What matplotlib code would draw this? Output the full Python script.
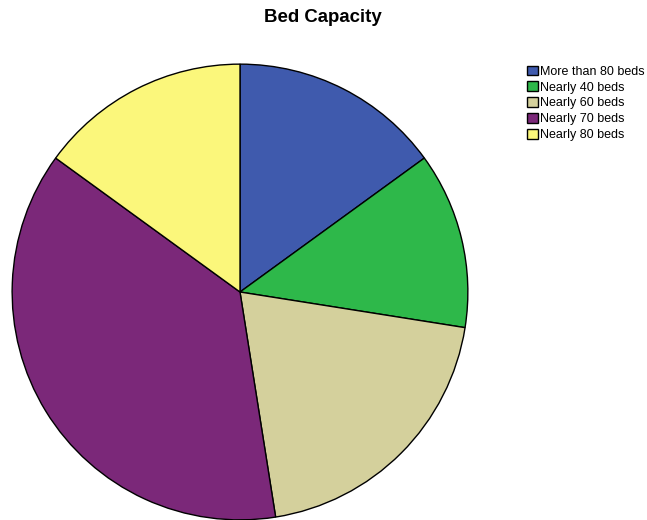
import matplotlib
matplotlib.use('Agg')
from matplotlib import pyplot as plt

labels = ['More than 80 beds', 'Nearly 40 beds', 'Nearly 60 beds',
          'Nearly 70 beds', 'Nearly 80 beds']
counts = [6, 5, 8, 15, 6]
colors = ['#3f5aad', '#2eb84a', '#d4d09c', '#7b2879', '#fbf77b']

plt.rcParams['font.family'] = ['Liberation Sans', 'DejaVu Sans']

fig = plt.figure(figsize=(6.47, 5.2), dpi=100)
ax = fig.add_axes([11 / 647, -1 / 520, 458 / 647, 458 / 520])
wedges, _ = ax.pie(counts, colors=colors, startangle=90, counterclock=False,
                   radius=1.0,
                   wedgeprops={'edgecolor': 'black', 'linewidth': 1.0})
ax.set_xlim(-1.005, 1.005)
ax.set_ylim(-1.005, 1.005)
ax.set_aspect('equal')
ax.axis('off')

fig.text(323 / 647, 1 - 18 / 520, 'Bed Capacity', ha='center', va='center',
         fontsize=13.4, fontweight='bold')

leg = fig.legend(wedges, labels, loc='upper left',
                 bbox_to_anchor=(527 / 647, 1 - 65.5 / 520),
                 frameon=False, fontsize=9, handlelength=0.85,
                 handleheight=0.85, handletextpad=0.2, labelspacing=0.28,
                 borderpad=0, borderaxespad=0)
for h in leg.legend_handles:
    h.set_edgecolor('black')
    h.set_linewidth(1.0)

fig.savefig('out.png', dpi=100)
